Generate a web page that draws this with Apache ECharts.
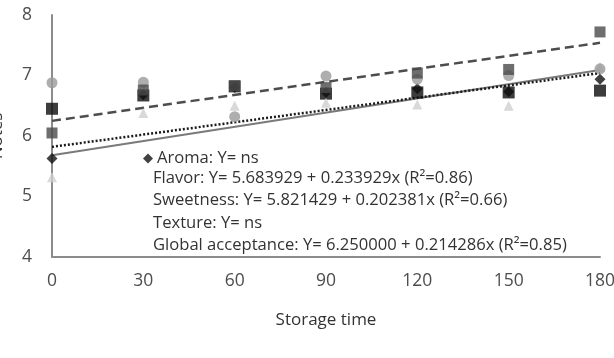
<!DOCTYPE html>
<html>
<head>
<meta charset="utf-8">
<script src="https://cdn.jsdelivr.net/npm/echarts@6/dist/echarts.min.js"></script>
<style>html,body{margin:0;padding:0;background:#fff}#c{width:614px;height:358px}</style>
</head>
<body>
<div id="c"></div>
<script>
// ---- data ----
var storageTime = [0, 30, 60, 90, 120, 150, 180];
var aroma      = [5.63, 6.68, 6.80, 6.72, 6.78, 6.73, 6.94];
var flavor     = [6.45, 6.67, 6.82, 6.70, 6.72, 6.72, 6.75];
var sweetness  = [5.32, 6.38, 6.50, 6.55, 6.52, 6.50, 7.14];
var texture    = [6.88, 6.89, 6.32, 6.99, 6.94, 7.00, 7.11];
var globalAcc  = [6.05, 6.76, 6.83, 6.80, 7.04, 7.10, 7.72];
// trend line end values (at 0 and 180)
var trendX         = [0, 180];
var flavorTrend    = [5.68, 7.09];
var sweetnessTrend = [5.82, 7.04];
var globalTrend    = [6.25, 7.54];
var yTicks = [4, 5, 6, 7, 8];
var legendLines = [
  'Aroma: Y= ns',
  'Flavor: Y= 5.683929 + 0.233929x (R\u00b2=0.86)',
  'Sweetness: Y= 5.821429 + 0.202381x (R\u00b2=0.66)',
  'Texture: Y= ns',
  'Global acceptance: Y= 6.250000 + 0.214286x (R\u00b2=0.85)'
];

function pairs(xs, ys){ return xs.map(function(x,i){ return [x, ys[i]]; }); }

var FONT = 'Open Sans';
var eqSize = 16.6;

var chart = echarts.init(document.getElementById('c'), null, {renderer: 'canvas'});
var sym = function(name, symbol, size, color, data, z){
  return {name: name, type: 'scatter', symbol: symbol, symbolSize: size, z: z,
          itemStyle: {color: color}, data: pairs(storageTime, data), silent: true};
};
var trend = function(name, data, color, width, type){
  return {name: name, type: 'line', data: pairs(trendX, data), showSymbol: false, symbol: 'none',
          lineStyle: {color: color, width: width, type: type}, z: 1, silent: true};
};
chart.setOption({
  animation: false,
  backgroundColor: '#fff',
  grid: {left: 52, right: 14, top: 15, bottom: 101, containLabel: false, outerBoundsMode: 'none'},
  xAxis: {
    type: 'value', min: 0, max: 180, interval: 30,
    name: 'Storage time', nameLocation: 'middle', nameGap: 55,
    nameTextStyle: {fontFamily: FONT, fontSize: 17, color: '#333333'},
    axisLine: {show: true, lineStyle: {color: '#8c8c8c', width: 2}},
    axisTick: {show: false}, splitLine: {show: false},
    axisLabel: {fontFamily: FONT, fontSize: 17.5, color: '#4d4d4d', margin: 15}
  },
  yAxis: {
    type: 'value', min: yTicks[0], max: yTicks[yTicks.length-1], interval: 1,
    name: 'Notes', nameLocation: 'middle', nameGap: 46, nameRotate: 90,
    nameTextStyle: {fontFamily: FONT, fontSize: 17, color: '#333333'},
    axisLine: {show: true, lineStyle: {color: '#8c8c8c', width: 2}},
    axisTick: {show: false}, splitLine: {show: false},
    axisLabel: {fontFamily: FONT, fontSize: 17.5, color: '#4d4d4d', margin: 20}
  },
  legend: {
    data: [{name: 'Aroma', icon: 'diamond'}],
    left: 138, top: 145, itemWidth: 10, itemHeight: 10,
    formatter: function(){ return legendLines[0]; },
    textStyle: {fontFamily: FONT, fontSize: eqSize, color: '#333333', padding: [0,0,0,-1]},
    selectedMode: false
  },
  graphic: [{
    type: 'text', left: 153, top: 167,
    style: {text: legendLines.slice(1).join('\n'), font: eqSize + 'px "' + FONT + '"',
            fill: '#333333', lineHeight: 22.5}
  }],
  series: [
    trend('Flavor trend', flavorTrend, '#7a7a7a', 2, 'solid'),
    trend('Sweetness trend', sweetnessTrend, '#1a1a1a', 2.5, [2, 2]),
    trend('Global trend', globalTrend, '#4d4d4d', 2.5, [9, 5]),
    sym('Aroma', 'diamond', 11, '#111111', aroma, 2),
    sym('Flavor', 'rect', 12, '#0d0d0d', flavor, 3),
    sym('Sweetness', 'triangle', 10, '#cfcfcf', sweetness, 3),
    sym('Texture', 'circle', 11, '#9a9a9a', texture, 3),
    sym('Global acceptance', 'rect', 11, '#4a4a4a', globalAcc, 4)
  ]
});
</script>
</body>
</html>
